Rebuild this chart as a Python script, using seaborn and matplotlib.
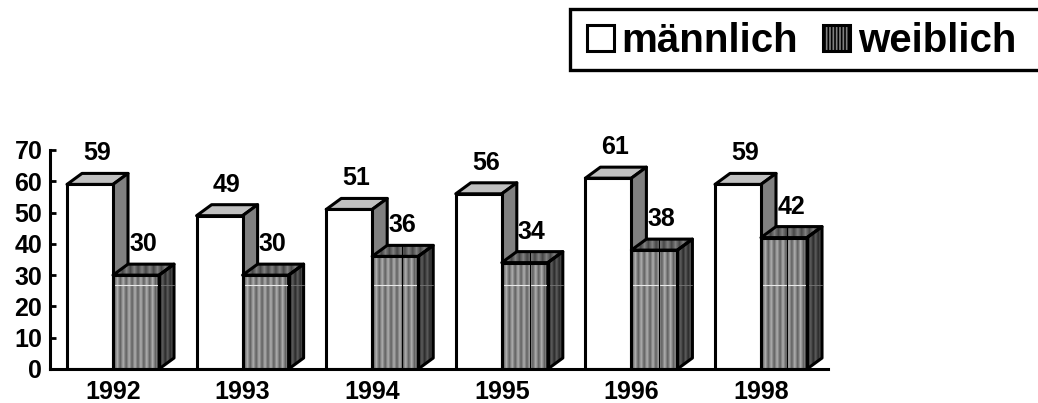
import numpy as np
import pandas as pd
import matplotlib
matplotlib.use("Agg")
import matplotlib.pyplot as plt
from matplotlib.patches import Polygon, Patch, Rectangle
from matplotlib.colors import LinearSegmentedColormap
import seaborn as sns

years = ["1992", "1993", "1994", "1995", "1996", "1998"]
maennlich = [59, 49, 51, 56, 61, 59]
weiblich = [30, 30, 36, 34, 38, 42]
series_names = ["männlich", "weiblich"]
y_ticks = [0, 10, 20, 30, 40, 50, 60, 70]

W, H = 1038, 403
sns.set_theme(style="white")
plt.rcParams["font.family"] = ["Liberation Sans", "DejaVu Sans"]
plt.rcParams["font.weight"] = "bold"
plt.rcParams["hatch.linewidth"] = 1.2

df = pd.DataFrame({
    "Jahr": years * 2,
    "Wert": maennlich + weiblich,
    "Geschlecht": [series_names[0]] * len(years) + [series_names[1]] * len(years),
})

fig = plt.figure(figsize=(W / 100, H / 100), dpi=100, facecolor="white")
left, right, top, bottom = 50, 828, 150, 369
ax = fig.add_axes([left / W, 1 - bottom / H, (right - left) / W, (bottom - top) / H])
LW = 2.2
FS = 18

sns.barplot(data=df, x="Jahr", y="Wert", hue="Geschlecht", order=years,
            hue_order=series_names, palette=["white", "#808080"], width=0.71,
            gap=0, edgecolor="black", linewidth=LW, legend=False, ax=ax, zorder=3)

spacing = 129.6
x0 = (left - 113) / spacing
ax.set_xlim(x0, x0 + (right - left) / spacing)
ax.set_ylim(0, 70)
dx, dy = 15 / spacing, 11 / ((bottom - top) / 70)
xl, yl = ax.get_xlim(), ax.get_ylim()

cmap = LinearSegmentedColormap.from_list("g", ["black", "white"])


def stripes(lo, hi, periods):
    """One row of alternating grey levels for a striped face."""
    return np.array([[lo, hi] * periods])


bars = [p for p in ax.patches if p.get_height() > 0]
n = len(years)
for i, bar in enumerate(bars):
    xa, w, h = bar.get_x(), bar.get_width(), bar.get_height()
    xb = xa + w
    female = i >= n
    z = 3 + (i % n) * 2 + (1 if female else 0)
    bar.set_zorder(z + 0.5)
    top_pts = [(xa, h), (xa + dx, h + dy), (xb + dx, h + dy), (xb, h)]
    side_pts = [(xb, 0), (xb + dx, dy), (xb + dx, h + dy), (xb, h)]
    top_c, side_c = ("#c0c0c0", "#808080") if not female else ("none", "none")
    tp = Polygon(top_pts, closed=True, fc=top_c, ec="black", lw=LW, zorder=z + 0.2,
                 clip_on=False, joinstyle="round")
    sp = Polygon(side_pts, closed=True, fc=side_c, ec="black", lw=LW, zorder=z + 0.2,
                 clip_on=False, joinstyle="round")
    ax.add_patch(tp)
    ax.add_patch(sp)
    if female:
        bar.set_facecolor("none")
        ax.imshow(stripes(0.38, 0.68, 8), extent=(xa, xb, 0, h), aspect="auto", cmap=cmap,
                  vmin=0, vmax=1, zorder=z + 0.1, interpolation="bilinear")
        im = ax.imshow(stripes(0.28, 0.50, 8), extent=(xa, xb + dx, h, h + dy), aspect="auto",
                       cmap=cmap, vmin=0, vmax=1, zorder=z + 0.1, interpolation="bilinear", clip_on=True)
        im.set_clip_path(Polygon(top_pts, closed=True, transform=ax.transData))
        im = ax.imshow(stripes(0.17, 0.36, 3), extent=(xb, xb + dx, 0, h + dy), aspect="auto",
                       cmap=cmap, vmin=0, vmax=1, zorder=z + 0.1, interpolation="bilinear", clip_on=True)
        im.set_clip_path(Polygon(side_pts, closed=True, transform=ax.transData))
        ax.plot([xa, xb], [26.7, 26.7], color="#e8e8e8", lw=0.8, zorder=z + 0.4)
        ax.plot([xb, xb + dx], [26.7, 26.7], color="#777777", lw=0.6, zorder=z + 0.4)
        if i % n >= 2:
            # thin seam of the fill texture, repeating every 128 px
            seam = xa + (0.65 - 0.027 * (i % n - 2)) * w
            ax.plot([seam, seam], [0, h], color="black", lw=0.8, zorder=z + 0.4)
            ax.plot([seam, seam], [h, h + dy], color="black", lw=0.8, zorder=z + 0.15)
    cx = xa + w / 2
    ax.annotate(str(int(h)), (cx, h), xytext=(7, 31), textcoords="offset pixels", ha="center",
                va="center", fontsize=FS, fontweight="bold", color="black", zorder=z + 0.05,
                clip_on=False)
ax.set_xlim(xl)
ax.set_ylim(yl)

for s in ["top", "right"]:
    ax.spines[s].set_visible(False)
for s in ["left", "bottom"]:
    ax.spines[s].set_linewidth(LW)
    ax.spines[s].set_color("black")
    ax.spines[s].set_zorder(40)
ax.set_xlabel("")
ax.set_ylabel("")
ax.set_yticks(y_ticks)
ax.set_yticklabels([str(v) for v in y_ticks], fontsize=FS, fontweight="bold", color="black")
ax.set_xticks(range(n))
ax.set_xticklabels(years, fontsize=FS, fontweight="bold", color="black")
ax.set_xticks(np.arange(n) + 0.5, minor=True)
ax.tick_params(axis="x", which="major", length=0, pad=8)
ax.tick_params(axis="x", which="minor", length=4, width=2, direction="in", color="black")
ax.tick_params(axis="y", which="major", length=4, width=2, direction="in", color="black", pad=5.5, left=True)
ax.patch.set_alpha(0)

fig.add_artist(Rectangle((570 / W, 1 - 70 / H), 500 / W, 61 / H, transform=fig.transFigure,
                         fc="white", ec="black", lw=2.4, clip_on=True))
handles = [Patch(fc="white", ec="black", lw=2.2),
           Patch(fc="#808080", ec="black", lw=2.2, hatch="|||||")]
leg = fig.legend(handles, series_names, loc="upper left", bbox_to_anchor=(587 / W, 1 - 22 / H),
                 borderaxespad=0, frameon=False, labelcolor="black",
                 prop={"family": "Liberation Sans", "weight": "bold", "size": 29},
                 handlelength=0.66, handleheight=0.62, handletextpad=0.2, columnspacing=0.62,
                 ncol=2, borderpad=0)
leg.set_zorder(5)
fig.savefig("out.png", dpi=100, facecolor="white")
